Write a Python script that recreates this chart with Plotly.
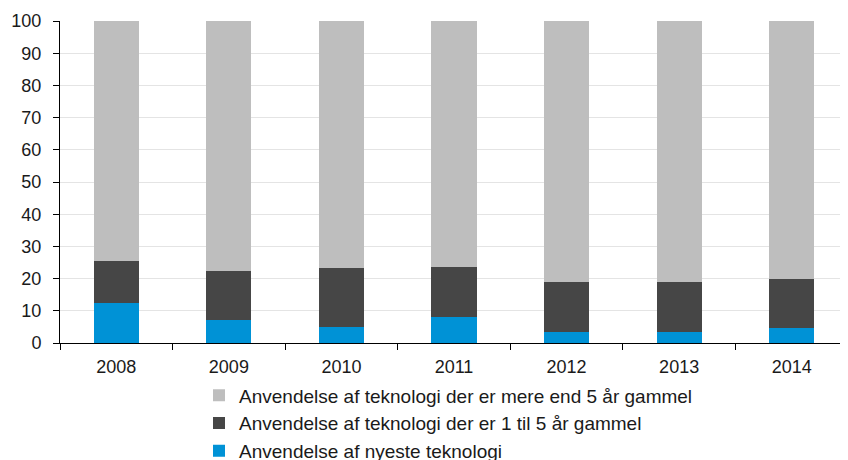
import plotly.graph_objects as go

years = ["2008", "2009", "2010", "2011", "2012", "2013", "2014"]
newest = [12.3, 7.1, 5.0, 8.0, 3.3, 3.3, 4.6]
one_to_five = [13.2, 15.3, 18.3, 15.6, 15.6, 15.6, 15.3]
older = [74.5, 77.6, 76.7, 76.4, 81.1, 81.1, 80.1]

names = [
    "Anvendelse af nyeste teknologi",
    "Anvendelse af teknologi der er 1 til 5 år gammel",
    "Anvendelse af teknologi der er mere end 5 år gammel",
]
colors = ["#0092d6", "#464646", "#bebebe"]

fig = go.Figure()
for i, (name, vals, col) in enumerate(zip(names, [newest, one_to_five, older], colors)):
    fig.add_trace(go.Bar(x=years, y=vals, name=name, legendgroup=f"g{i}",
                         marker=dict(color=col, line=dict(width=0))))

fig.update_layout(
    barmode="stack",
    bargap=0.6,
    width=840, height=452,
    margin=dict(l=52, r=0, t=13, b=117, autoexpand=False),
    paper_bgcolor="white", plot_bgcolor="white",
    font=dict(family="Liberation Sans, Arial, sans-serif", size=18, color="#1a1a1a"),
    showlegend=True,
    legend=dict(orientation="v", traceorder="reversed", x=0.1764, xanchor="left",
                y=-0.104, yanchor="top", font=dict(size=19), itemsizing="constant",
                tracegroupgap=2, bgcolor="rgba(0,0,0,0)"),
)
fig.update_yaxes(range=[0, 100], dtick=10, showgrid=True, gridcolor="#e4e4e4", gridwidth=1,
                 showline=True, linecolor="black", linewidth=1, ticks="outside", ticklen=6,
                 ticklabelstandoff=8,
                 tickcolor="black", zeroline=False, fixedrange=True)
fig.update_xaxes(showline=True, linecolor="black", linewidth=1, ticks="outside", ticklen=6,
                 ticklabelstandoff=7,
                 tickcolor="black", tickson="boundaries", showgrid=False, fixedrange=True)

fig.write_html("out.html")
